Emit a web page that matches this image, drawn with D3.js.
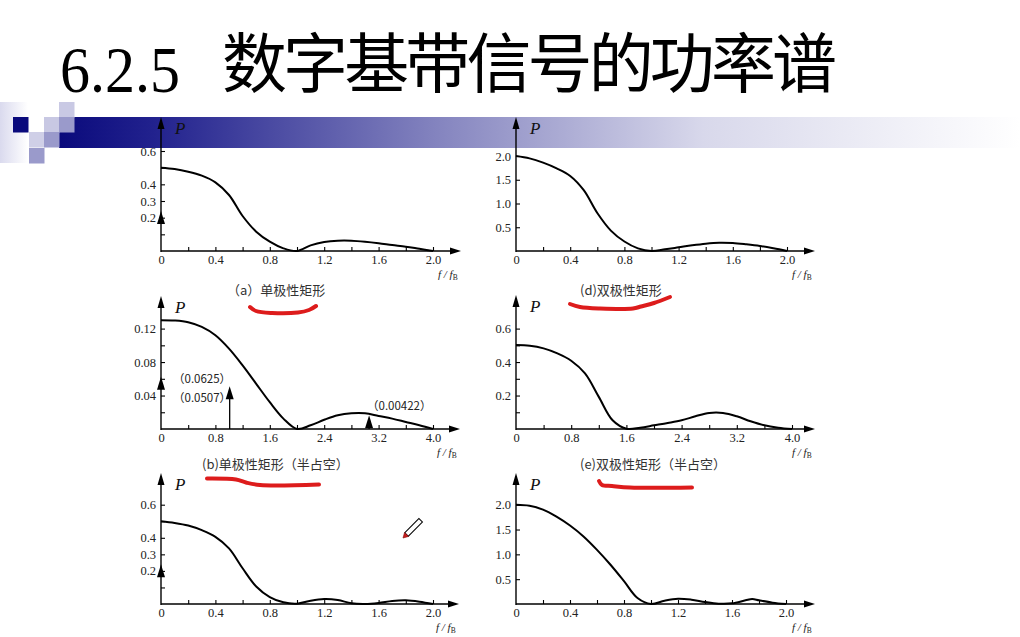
<!DOCTYPE html>
<html>
<head>
<meta charset="utf-8">
<script src="https://cdn.jsdelivr.net/npm/d3@7/dist/d3.min.js"></script>
<style>
  html, body { margin: 0; padding: 0; background: #ffffff; }
  svg { display: block; }
</style>
</head>
<body>
<svg id="chart" width="1020" height="637"></svg>
<script>
// ---------------- DATA ----------------
const titleNum = "6.2.5";
const titleText = "数字基带信号的功率谱";
const captions = ["（a）单极性矩形", "(d)双极性矩形", "(b)单极性矩形（半占空）", "(e)双极性矩形（半占空）"];

const fA = [0,0.1,0.2,0.3,0.4,0.5,0.6,0.7,0.8,0.9,1.0,1.1,1.2,1.3,1.4,1.5,1.6,1.7,1.8,1.9,2.0];
const pA = [0.50,0.492,0.476,0.452,0.412,0.336,0.210,0.116,0.056,0.016,0,0.034,0.054,0.062,0.062,0.056,0.047,0.036,0.026,0.013,0];

const fD = [0,0.1,0.2,0.3,0.4,0.5,0.6,0.7,0.8,0.9,1.0,1.1,1.2,1.3,1.4,1.5,1.6,1.7,1.8,1.9,2.0];
const pD = [2.0,1.95,1.86,1.74,1.58,1.28,0.80,0.43,0.20,0.056,0,0.035,0.077,0.12,0.155,0.175,0.168,0.14,0.105,0.056,0];

const fB = [0,0.2,0.4,0.6,0.8,1.0,1.2,1.4,1.6,1.8,2.0,2.2,2.4,2.6,2.8,3.0,3.2,3.4,3.6,3.8,4.0];
const pB = [0.130,0.1296,0.1276,0.122,0.112,0.096,0.076,0.054,0.032,0.0124,0,0.0044,0.011,0.0164,0.0188,0.0188,0.0156,0.0124,0.0084,0.0044,0];

const fE = [0,0.2,0.4,0.6,0.8,1.0,1.2,1.4,1.6,1.8,2.0,2.2,2.4,2.6,2.8,3.0,3.2,3.4,3.6,3.8,4.0];
const pE = [0.502,0.498,0.482,0.452,0.408,0.332,0.192,0.052,0.002,0.008,0.022,0.036,0.052,0.076,0.096,0.096,0.076,0.046,0.022,0.008,0];

const fC = [0,0.1,0.2,0.3,0.4,0.5,0.6,0.7,0.8,0.9,1.0,1.1,1.2,1.3,1.4,1.5,1.6,1.7,1.8,1.9,2.0];
const pC = [0.50,0.49,0.474,0.446,0.406,0.336,0.216,0.106,0.042,0.01,0.002,0.02,0.03,0.024,0.004,0,0.006,0.018,0.022,0.014,0];

const fF = [0,0.1,0.2,0.3,0.4,0.5,0.6,0.7,0.8,0.9,1.0,1.1,1.2,1.3,1.4,1.5,1.6,1.7,1.75,1.8,1.9,2.0];
const pF = [2.0,1.98,1.90,1.76,1.58,1.36,1.09,0.79,0.46,0.12,0,0.067,0.107,0.087,0.04,0.007,0.013,0.074,0.1,0.074,0.027,0];

// discrete spectral lines (drawn heights) and their labels
const impA = [{f:0, p:0.24}];
const impB = [{f:0, p:0.0625}, {f:1.01, p:0.051}, {f:3.06, p:0.0165}];
const impC = [{f:0, p:0.24}];
const impBLabels = ["（0.0625）", "（0.0507）", "（0.00422）"];

// tick values
const xTicks2 = [0.2,0.4,0.6,0.8,1.0,1.2,1.4,1.6,1.8,2.0];
const xLabels2 = [0,0.4,0.8,1.2,1.6,2.0];
const xTicks4 = [0.4,0.8,1.2,1.6,2.0,2.4,2.8,3.2,3.6,4.0];
const xLabels4 = [0,0.8,1.6,2.4,3.2,4.0];
const yTicksA = [0.1,0.2,0.3,0.4,0.5,0.6];
const yLabelsA = [0.2,0.3,0.4,0.6];
const yTicksD = [0.5,1.0,1.5,2.0];
const yLabelsD = [0.5,1.0,1.5,2.0];
const yTicksB = [0.02,0.04,0.06,0.08,0.10,0.12];
const yLabelsB = [0.04,0.08,0.12];
const yTicksE = [0.1,0.2,0.3,0.4,0.5,0.6];
const yLabelsE = [0.2,0.4,0.6];

// ---------------- LAYOUT ----------------
const svg = d3.select("#chart");
const serif = "'Liberation Serif', 'DejaVu Serif', serif";
const cjk = "'Noto Sans CJK SC', 'Noto Sans', sans-serif";

// header gradient bar
const defs = svg.append("defs");
const grad = defs.append("linearGradient").attr("id", "barGrad")
  .attr("gradientUnits", "userSpaceOnUse").attr("x1", 59).attr("x2", 1020).attr("y1", 0).attr("y2", 0);
[[0, "#0a0a7c"], [0.1, "#22228e"], [0.4, "#8686c0"], [0.67, "#d8d8eb"], [1, "#ffffff"]]
  .forEach(s => grad.append("stop").attr("offset", s[0]).attr("stop-color", s[1]));
const fade = defs.append("linearGradient").attr("id", "fadeGrad").attr("x1", 0).attr("x2", 1);
fade.append("stop").attr("offset", 0).attr("stop-color", "#dadaee");
fade.append("stop").attr("offset", 1).attr("stop-color", "#ffffff");

svg.append("rect").attr("x", 0).attr("y", 102).attr("width", 28).attr("height", 61).attr("fill", "url(#fadeGrad)");
svg.append("rect").attr("x", 59).attr("y", 117).attr("width", 961).attr("height", 31).attr("fill", "url(#barGrad)");
const squares = [
  [13, 117, "#0a0a7c"], [44, 117, "#c8c8e3"], [59, 102, "#c9c9e4"], [59, 117, "#9a9acb"],
  [29, 132, "#cfcfe7"], [44, 132, "#9a9acb"], [29, 148, "#9a9acb"]
];
svg.selectAll("rect.sq").data(squares).enter().append("rect").attr("class", "sq")
  .attr("x", d => d[0]).attr("y", d => d[1]).attr("width", 15.5).attr("height", 15.5).attr("fill", d => d[2]);

// title
svg.append("text").attr("x", 60).attr("y", 92).attr("font-family", serif).attr("font-size", 66)
  .attr("textLength", 120).attr("lengthAdjust", "spacingAndGlyphs").attr("fill", "#000").text(titleNum);
svg.append("text").attr("x", 222).attr("y", 87).attr("font-family", cjk).attr("font-size", 65)
  .attr("textLength", 615).attr("lengthAdjust", "spacing").attr("fill", "#000").text(titleText);

const panels = [
  {f: fA, p: pA, x0: 161, x1: 433, xmax: 2.0, ax: 251, top: 117, ymax: 0.6, yh: 100, xt: xTicks2, xl: xLabels2, yt: yTicksA, yl: yLabelsA, yf: ".1f", imp: impA, xEnd: 461},
  {f: fD, p: pD, x0: 516, x1: 787, xmax: 2.0, ax: 251, top: 117, ymax: 2.0, yh: 95, xt: xTicks2, xl: xLabels2, yt: yTicksD, yl: yLabelsD, yf: ".1f", imp: [], xEnd: 815},
  {f: fB, p: pB, x0: 161, x1: 433, xmax: 4.0, ax: 429, top: 296, ymax: 0.12, yh: 100.4, xt: xTicks4, xl: xLabels4, yt: yTicksB, yl: yLabelsB, yf: ".2f", imp: impB, xEnd: 460},
  {f: fE, p: pE, x0: 516, x1: 792, xmax: 4.0, ax: 429, top: 295, ymax: 0.6, yh: 100.4, xt: xTicks4, xl: xLabels4, yt: yTicksE, yl: yLabelsE, yf: ".1f", imp: [], xEnd: 815},
  {f: fC, p: pC, x0: 161, x1: 433, xmax: 2.0, ax: 604, top: 473, ymax: 0.6, yh: 99.3, xt: xTicks2, xl: xLabels2, yt: yTicksA, yl: yLabelsA, yf: ".1f", imp: impC, xEnd: 459},
  {f: fF, p: pF, x0: 516, x1: 786, xmax: 2.0, ax: 604, top: 473, ymax: 2.0, yh: 99.3, xt: xTicks2, xl: xLabels2, yt: yTicksD, yl: yLabelsD, yf: ".1f", imp: [], xEnd: 815}
];

function tri(g, x, yTip, w, h) {
  g.append("path").attr("d", `M${x},${yTip}L${x - w / 2},${yTip + h}L${x + w / 2},${yTip + h}Z`).attr("fill", "#000");
}
function triRight(g, xTip, y, w, h) {
  g.append("path").attr("d", `M${xTip},${y}L${xTip - h},${y - w / 2}L${xTip - h},${y + w / 2}Z`).attr("fill", "#000");
}

const scales = [];
panels.forEach((P, i) => {
  const g = svg.append("g");
  const x = d3.scaleLinear().domain([0, P.xmax]).range([P.x0, P.x1]);
  const y = d3.scaleLinear().domain([0, P.ymax]).range([P.ax, P.ax - P.yh]);
  scales.push({x, y});

  // x ticks (upward, no labels)
  const gx = g.append("g").attr("transform", `translate(0,${P.ax})`)
    .call(d3.axisBottom(x).tickValues(P.xt).tickSize(-4).tickFormat(""));
  gx.select(".domain").remove();
  gx.selectAll("line").attr("stroke", "#000").attr("stroke-width", 1.1);
  // x labels
  const gxl = g.append("g").attr("transform", `translate(0,${P.ax})`)
    .call(d3.axisBottom(x).tickValues(P.xl).tickSize(0).tickPadding(4).tickFormat(v => v === 0 ? "0" : d3.format(".1f")(v)));
  gxl.select(".domain").remove();
  gxl.selectAll("text").attr("font-family", serif).attr("font-size", 12.5).attr("fill", "#222");

  // y ticks (rightward)
  const gy = g.append("g").attr("transform", `translate(${P.x0},0)`)
    .call(d3.axisLeft(y).tickValues(P.yt).tickSize(-4).tickFormat(""));
  gy.select(".domain").remove();
  gy.selectAll("line").attr("stroke", "#000").attr("stroke-width", 1.1);
  const gyl = g.append("g").attr("transform", `translate(${P.x0},0)`)
    .call(d3.axisLeft(y).tickValues(P.yl).tickSize(0).tickPadding(5).tickFormat(d3.format(P.yf)));
  gyl.select(".domain").remove();
  gyl.selectAll("text").attr("font-family", serif).attr("font-size", 12.5).attr("fill", "#222");

  // axes lines with arrows
  g.append("line").attr("x1", P.x0).attr("x2", P.x0).attr("y1", P.ax + 1).attr("y2", P.top + 8)
    .attr("stroke", "#000").attr("stroke-width", 1.4);
  tri(g, P.x0, P.top, 7, 12);
  g.append("line").attr("x1", P.x0).attr("x2", P.xEnd - 8).attr("y1", P.ax).attr("y2", P.ax)
    .attr("stroke", "#000").attr("stroke-width", 1.4);
  triRight(g, P.xEnd, P.ax, 7, 11);

  // axis names
  g.append("text").attr("x", P.x0 + 14).attr("y", P.top + 17).attr("font-family", serif)
    .attr("font-style", "italic").attr("font-size", 17).attr("fill", "#111").text("P");
  const xl = g.append("text").attr("x", P.xEnd - 23).attr("y", P.ax + 27).attr("font-family", serif)
    .attr("font-style", "italic").attr("font-size", 11).attr("fill", "#222");
  xl.append("tspan").text("f / f");
  xl.append("tspan").attr("font-size", 7.5).attr("font-style", "normal").attr("dy", 2).text("B");

  // curve
  const pts = P.f.map((v, k) => [v, P.p[k]]);
  g.append("path").datum(pts)
    .attr("d", d3.line().x(d => x(d[0])).y(d => Math.min(P.ax, y(d[1]))).curve(d3.curveCatmullRom.alpha(0.5)))
    .attr("fill", "none").attr("stroke", "#000").attr("stroke-width", 2);

  // impulses
  P.imp.forEach(d => {
    const xp = x(d.f), yp = y(d.p);
    if (d.f > 0) {
      g.append("line").attr("x1", xp).attr("x2", xp).attr("y1", P.ax).attr("y2", yp + 6)
        .attr("stroke", "#000").attr("stroke-width", 1.3);
    }
    tri(g, xp, yp, 8, 13);
  });
});

// labels for discrete lines in panel (b)
const impLabelPos = [[173, 383], [173, 402], [367, 410]];
impBLabels.forEach((t, i) => {
  svg.append("text").attr("x", impLabelPos[i][0]).attr("y", impLabelPos[i][1])
    .attr("font-family", cjk).attr("font-size", 11.5).attr("fill", "#222").text(t);
});

// captions
const capPos = [[227, 295], [580, 295], [202, 469], [580, 469]];
captions.forEach((t, i) => {
  svg.append("text").attr("x", capPos[i][0]).attr("y", capPos[i][1])
    .attr("font-family", cjk).attr("font-size", 13).attr("fill", "#333").text(t);
});

// red hand-drawn annotations
const redMarks = [
  [[250, 307], [256, 311], [272, 313], [298, 312.5], [309, 310], [316, 306]],
  [[570, 304], [580, 307], [600, 308.5], [633, 308.5], [641, 306.5], [654, 303], [670, 297]],
  [[207, 478.5], [236, 479.5], [246, 482.5], [260, 485], [319, 484.5]],
  [[599, 481], [602, 485], [612, 486], [630, 487.5], [692, 487.5]]
];
redMarks.forEach(m => {
  svg.append("path").datum(m)
    .attr("d", d3.line().curve(d3.curveCatmullRom))
    .attr("fill", "none").attr("stroke", "#dd1c1c").attr("stroke-width", 4)
    .attr("stroke-linecap", "round").attr("stroke-linejoin", "round");
});

// pen cursor
const pen = svg.append("g").attr("transform", "translate(403,538) rotate(-45)");
pen.append("path").attr("d", "M5,-2.5L25,-2.5L25,2.5L5,2.5Z").attr("fill", "#fff").attr("stroke", "#000").attr("stroke-width", 1);
pen.append("path").attr("d", "M0,0L5,-2.8L5,2.8Z").attr("fill", "#c81e1e").attr("stroke", "#8a1010").attr("stroke-width", 0.6);
</script>
</body>
</html>
